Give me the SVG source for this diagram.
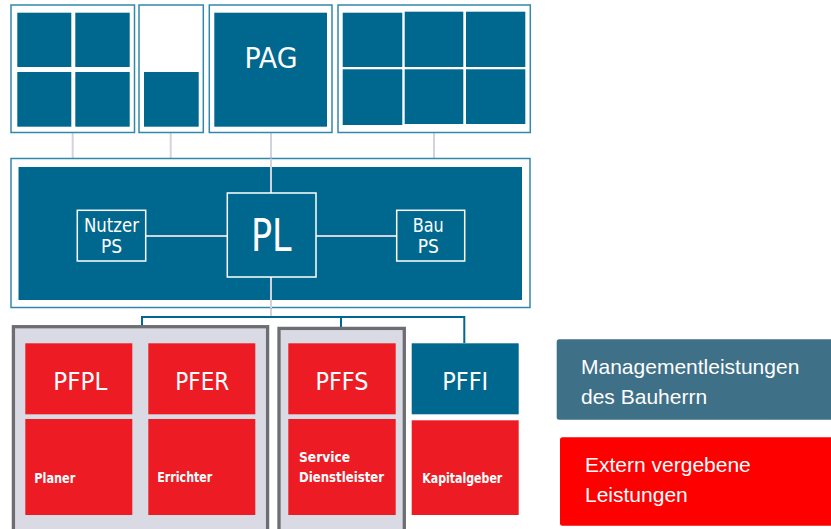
<svg xmlns="http://www.w3.org/2000/svg" width="831" height="529" viewBox="0 0 831 529">
<style>
.frame{fill:#fff;stroke:#3288aa;stroke-width:1.5}
.cell{fill:#00688f}
.wl{fill:none;stroke:#fff;stroke-width:1.5}
.gl{fill:none;stroke:#d3d3dd;stroke-width:2}
.bl{fill:none;stroke:#00688f;stroke-width:2}
.grp{fill:#d9dae3;stroke:#6d6e72;stroke-width:3.3}
.red{fill:#ed1c24}
.t{font-family:"DejaVu Sans Condensed","Liberation Sans Narrow","DejaVu Sans",sans-serif;font-stretch:condensed;fill:#fff;text-anchor:middle}
.s{font-family:"DejaVu Sans Condensed","Liberation Sans Narrow","DejaVu Sans",sans-serif;font-stretch:condensed;fill:#fff;font-weight:bold;font-size:14px}
.lg{font-family:"Liberation Sans",Arial,sans-serif;fill:#fff;font-size:21px}
</style>
<g id="connectors">
<line class="gl" x1="72.7" y1="133" x2="72.7" y2="159"/>
<line class="gl" x1="170.7" y1="133" x2="170.7" y2="159"/>
<line class="gl" x1="434" y1="133" x2="434" y2="159"/>
<line class="gl" x1="271" y1="133" x2="271" y2="193"/>
<line class="gl" x1="271" y1="277" x2="271" y2="317"/>
<line class="gl" x1="146" y1="236" x2="227" y2="236"/>
<line class="gl" x1="316" y1="236" x2="397" y2="236"/>
<polyline class="bl" points="142,326 142,317 464.3,317 464.3,343"/>
<line class="bl" x1="341" y1="317" x2="341" y2="328"/>
</g>
<g id="top1">
<rect class="frame" x="11" y="5" width="123.5" height="127.5"/>
<rect class="cell" x="17.3" y="12.7" width="54" height="54.3"/>
<rect class="cell" x="75.3" y="12.7" width="54.4" height="54.3"/>
<rect class="cell" x="17.3" y="72" width="54" height="54.7"/>
<rect class="cell" x="75.3" y="72" width="54.4" height="54.7"/>
</g>
<g id="top2">
<rect class="frame" x="139" y="5" width="64.3" height="127.5"/>
<rect class="cell" x="144" y="72" width="54.7" height="54.7"/>
</g>
<g id="PAG">
<rect class="frame" x="209.3" y="5" width="122.7" height="127.5"/>
<rect class="cell" x="214.3" y="12.7" width="112.7" height="114"/>
<text class="t" x="271" y="68.3" font-size="29" textLength="53" lengthAdjust="spacingAndGlyphs">PAG</text>
</g>
<g id="top4">
<rect class="frame" x="338" y="5" width="192.3" height="127.5"/>
<rect class="cell" x="342.7" y="12.7" width="59.6" height="54.3"/>
<rect class="cell" x="404.7" y="11.7" width="58.6" height="55.3"/>
<rect class="cell" x="466" y="11.7" width="59.3" height="55.3"/>
<rect class="cell" x="342.7" y="69.3" width="59.6" height="55.7"/>
<rect class="cell" x="404.7" y="69.3" width="58.6" height="54.7"/>
<rect class="cell" x="466" y="69.3" width="59.3" height="54.7"/>
</g>
<g id="PL-frame">
<rect class="frame" x="11" y="158.5" width="519" height="149"/>
<rect class="cell" x="18.5" y="167" width="503.5" height="133"/>
<line class="gl" x1="271" y1="158.5" x2="271" y2="193"/>
<line class="gl" x1="271" y1="277" x2="271" y2="308"/>
<line class="gl" x1="146" y1="236" x2="227" y2="236"/>
<line class="gl" x1="316" y1="236" x2="397" y2="236"/>
</g>
<g id="NutzerPS">
<rect class="wl" x="77.3" y="210.3" width="68.4" height="50.7"/>
<text class="t" font-size="19" x="111.5" y="232.3" textLength="55" lengthAdjust="spacingAndGlyphs">Nutzer</text>
<text class="t" font-size="19" x="111.5" y="253.3">PS</text>
</g>
<g id="PL">
<rect class="wl" x="227.3" y="193" width="88.7" height="84"/>
<text class="t" font-size="44" x="271.3" y="251" textLength="40.7" lengthAdjust="spacingAndGlyphs">PL</text>
</g>
<g id="BauPS">
<rect class="wl" x="396.7" y="210.3" width="68" height="50.7"/>
<text class="t" font-size="19" x="428.3" y="232.3" textLength="31" lengthAdjust="spacingAndGlyphs">Bau</text>
<text class="t" font-size="19" x="428.3" y="253.3">PS</text>
</g>
<g id="group1">
<rect class="grp" x="13.4" y="326.7" width="254.2" height="220"/>
</g>
<g id="group2">
<rect class="grp" x="279" y="328.4" width="125.3" height="220"/>
</g>
<g id="PFPL">
<rect class="red" x="25.3" y="343.3" width="107" height="71"/>
<text class="t" font-size="25" x="80.3" y="390" textLength="54" lengthAdjust="spacingAndGlyphs">PFPL</text>
<rect class="red" x="25.3" y="419" width="107" height="96"/>
<text class="s" x="34.3" y="482.7" textLength="41" lengthAdjust="spacingAndGlyphs">Planer</text>
</g>
<g id="PFER">
<rect class="red" x="148.3" y="343.3" width="107" height="71"/>
<text class="t" font-size="25" x="202.3" y="390" textLength="54" lengthAdjust="spacingAndGlyphs">PFER</text>
<rect class="red" x="148.3" y="419" width="107" height="96"/>
<text class="s" x="157.3" y="481.7" textLength="55" lengthAdjust="spacingAndGlyphs">Errichter</text>
</g>
<g id="PFFS">
<rect class="red" x="288.3" y="343.3" width="107.4" height="71"/>
<text class="t" font-size="25" x="342" y="390" textLength="53" lengthAdjust="spacingAndGlyphs">PFFS</text>
<rect class="red" x="288.3" y="419" width="107.4" height="96"/>
<text class="s" x="299" y="461.7" textLength="51" lengthAdjust="spacingAndGlyphs">Service</text>
<text class="s" x="299" y="481.7" textLength="85" lengthAdjust="spacingAndGlyphs">Dienstleister</text>
</g>
<g id="PFFI">
<rect class="cell" x="411.7" y="343.3" width="107" height="71"/>
<text class="t" font-size="25" x="465.2" y="390" textLength="46" lengthAdjust="spacingAndGlyphs">PFFI</text>
<rect class="red" x="411.7" y="420.3" width="107" height="94.7"/>
<text class="s" x="422.3" y="483.3" textLength="80" lengthAdjust="spacingAndGlyphs">Kapitalgeber</text>
</g>
<g id="legend-management">
<rect x="556.7" y="339.3" width="280" height="80.4" rx="2.5" fill="#3e7088"/>
<text class="lg" x="581" y="374">Managementleistungen</text>
<text class="lg" x="581" y="404">des Bauherrn</text>
</g>
<g id="legend-extern">
<rect x="560" y="437.3" width="280" height="88.4" rx="2.5" fill="#ff0000"/>
<text class="lg" x="585" y="472">Extern vergebene</text>
<text class="lg" x="585" y="501.7">Leistungen</text>
</g>
</svg>
